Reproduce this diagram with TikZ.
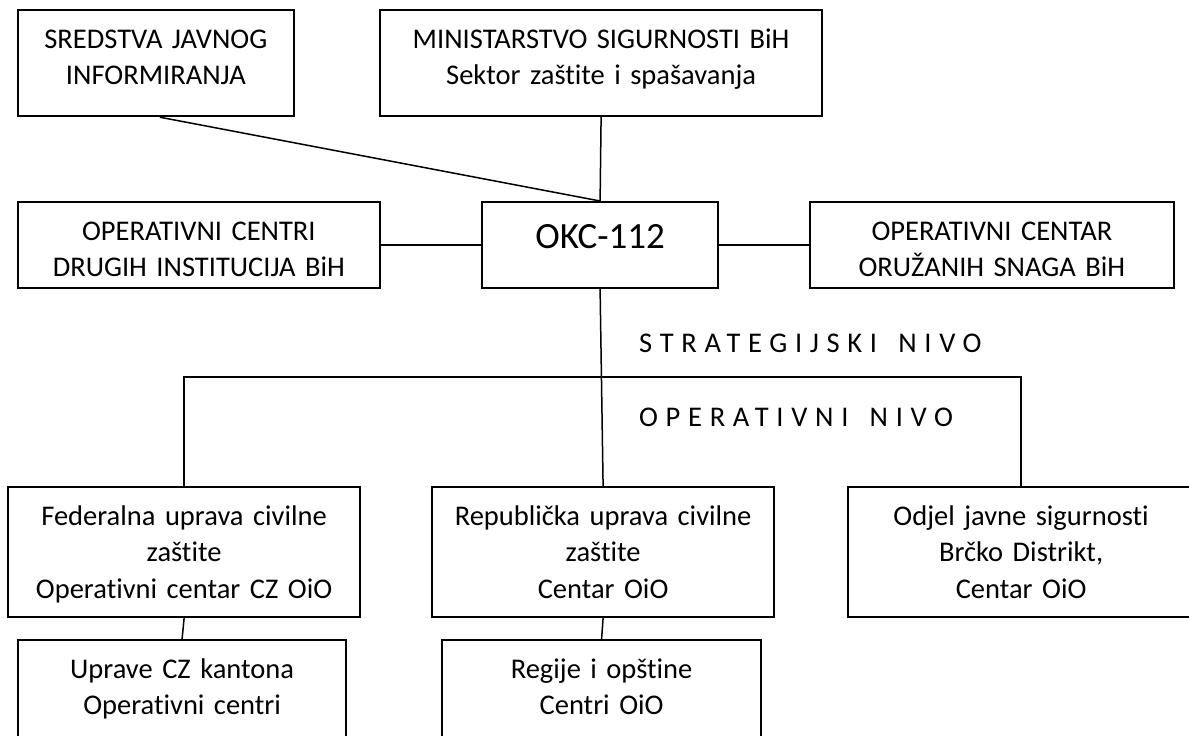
\documentclass[tikz,border=0pt]{standalone}
\usepackage{fontspec}
\setmainfont{Carlito}[Ligatures=NoCommon]
\newfontfamily\spacedfont{Carlito}[LetterSpace=27,Ligatures=NoCommon]
\begin{document}
\begin{tikzpicture}[x=1pt,y=-1pt,
  box/.style={draw, line width=2.2pt, inner sep=0pt, anchor=north west, align=center,
    font=\fontsize{28.5}{36.5}\selectfont, text height=38pt},
  conn/.style={line width=1.5pt},
  lvl/.style={anchor=base west, inner sep=0pt, font=\spacedfont\fontsize{28.5}{34}\selectfont}]
\path[fill=white] (0,0) rectangle (1189,736);
\useasboundingbox (0,0) rectangle (1189,736);

\node[box, text width=276.5pt, text depth=68pt] (sred) at (16.5,9) {SREDSTVA JAVNOG\\INFORMIRANJA};
\node[box, text width=442pt, text depth=68pt] (min) at (379,9) {MINISTARSTVO SIGURNOSTI BiH\\Sektor zaštite i spašavanja};
\node[box, text width=362.5pt, text depth=48pt] (ocd) at (16.5,201) {OPERATIVNI CENTRI\\DRUGIH INSTITUCIJA BiH};
\node[box, text width=236pt, text height=46pt, text depth=40pt, font=\fontsize{37}{44}\selectfont] (okc) at (481,201) {OKC-112};
\node[box, text width=364.5pt, text depth=48pt] (oco) at (808.5,201) {OPERATIVNI CENTAR\\ORUŽANIH SNAGA BiH};
\node[box, text width=352pt, text depth=92pt] (fed) at (7,486) {Federalna uprava civilne\\zaštite\\Operativni centar CZ OiO};
\node[box, text width=342pt, text depth=92pt] (rep) at (431,486) {Republička uprava civilne\\zaštite\\Centar OiO};
\node[box, text width=346pt, text depth=92pt] (odj) at (847,486) {Odjel javne sigurnosti\\Brčko Distrikt,\\Centar OiO};
\node[box, text width=328pt, text depth=73pt] (upr) at (17,639) {Uprave CZ kantona\\Operativni centri};
\node[box, text width=319pt, text depth=73pt] (reg) at (441,639) {Regije i opštine\\Centri OiO};

\coordinate (bus) at (600,377);
\draw[conn] ([xshift=4pt]sred.south) -- (okc.north);
\draw[conn] (min.south) -- (okc.north);
\draw[conn] (ocd.east) -- (okc.west);
\draw[conn] (okc.east) -- (oco.west);
\draw[conn] (okc.south) -- (rep.north);
\draw[conn] (fed.north) |- (bus) -| (odj.north);
\draw[conn] (fed.south) -- (upr.north);
\draw[conn] (rep.south) -- (reg.north);

\node[lvl] (strat) at (639,352) {STRATEGIJSKI\hspace{7pt} NIVO};
\node[lvl] (oper) at (639,426) {OPERATIVNI\hspace{7pt} NIVO};
\end{tikzpicture}
\end{document}
